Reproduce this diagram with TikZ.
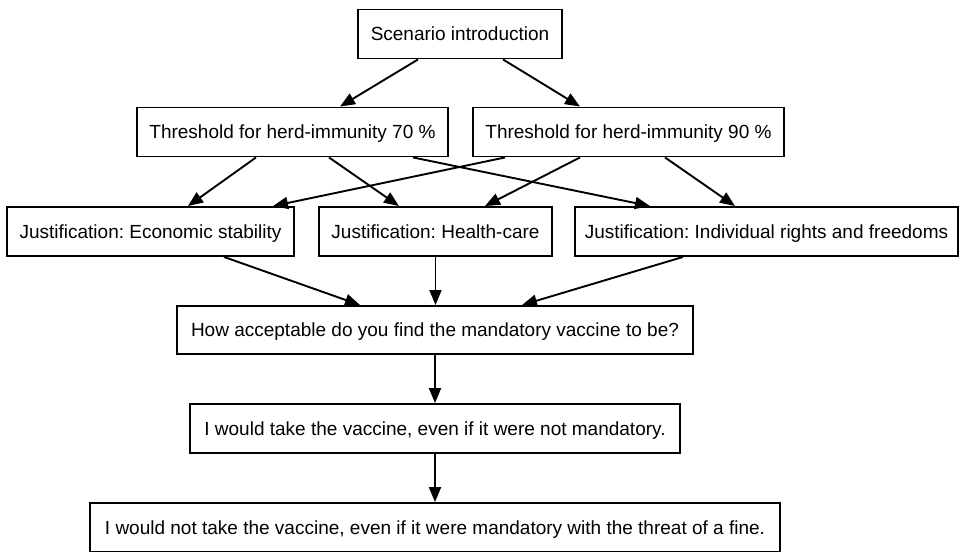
\documentclass[tikz,border=0pt]{standalone}
\usepackage{fontspec}
\setmainfont{Liberation Sans}
\usetikzlibrary{arrows.meta}
\frenchspacing
\begin{document}
\begin{tikzpicture}[x=1pt,y=-1pt,
  box/.style={draw=black, line width=1.9pt, fill=white, inner sep=0pt,
    font=\fontsize{19}{22}\selectfont\frenchspacing, text height=13.6pt, text depth=0pt,
    minimum height=49pt, align=center},
  conn/.style={line width=1.9pt, -{Triangle[length=15pt,width=12pt]}}]
\useasboundingbox[fill=white] (0,0) rectangle (960,551);
\node[box, minimum width=204pt] (intro) at (460,34) {Scenario introduction};
\node[box, minimum width=311pt] (t70) at (292.5,132) {Threshold for herd-immunity 70 \%};
\node[box, minimum width=311pt] (t90) at (628.5,132) {Threshold for herd-immunity 90 \%};
\node[box, minimum width=287pt] (econ) at (150.5,231.5) {Justification: Economic stability};
\node[box, minimum width=233pt] (health) at (435.5,231.5) {Justification: Health-care};
\node[box, minimum width=383pt] (indiv) at (766.5,231.5) {Justification: Individual rights and freedoms};
\node[box, minimum width=516pt, minimum height=48pt] (how) at (435,330) {How acceptable do you find the mandatory vaccine to be?};
\node[box, minimum width=490pt] (take) at (435,428.5) {I would take the vaccine, even if it were not mandatory.};
\node[box, minimum width=690pt] (fine) at (435,527.5) {I would not take the vaccine, even if it were mandatory with the threat of a fine.};

\draw[conn] ([xshift=-42]intro.south) -- ([xshift=47.5]t70.north);
\draw[conn] ([xshift=43]intro.south) -- ([xshift=-48.5]t90.north);
\draw[conn] ([xshift=-36.5]t70.south) -- ([xshift=37.5]econ.north);
\draw[conn] ([xshift=36.5]t70.south) -- ([xshift=-36.5]health.north);
\draw[conn] ([xshift=120.5]t70.south) -- ([xshift=-116.5]indiv.north);
\draw[conn] ([xshift=-123.5]t90.south) -- ([xshift=122.5]econ.north);
\draw[conn] ([xshift=-48.5]t90.south) -- ([xshift=49.5]health.north);
\draw[conn] ([xshift=36.5]t90.south) -- ([xshift=-31.5]indiv.north);
\draw[conn] ([xshift=73.5]econ.south) -- ([xshift=-75]how.north);
\draw[conn] (health.south) -- (health.south |- how.north);
\draw[conn] ([xshift=-83.5]indiv.south) -- ([xshift=87]how.north);
\draw[conn] (how.south) -- (take.north);
\draw[conn] (take.south) -- (fine.north);
\end{tikzpicture}
\end{document}
